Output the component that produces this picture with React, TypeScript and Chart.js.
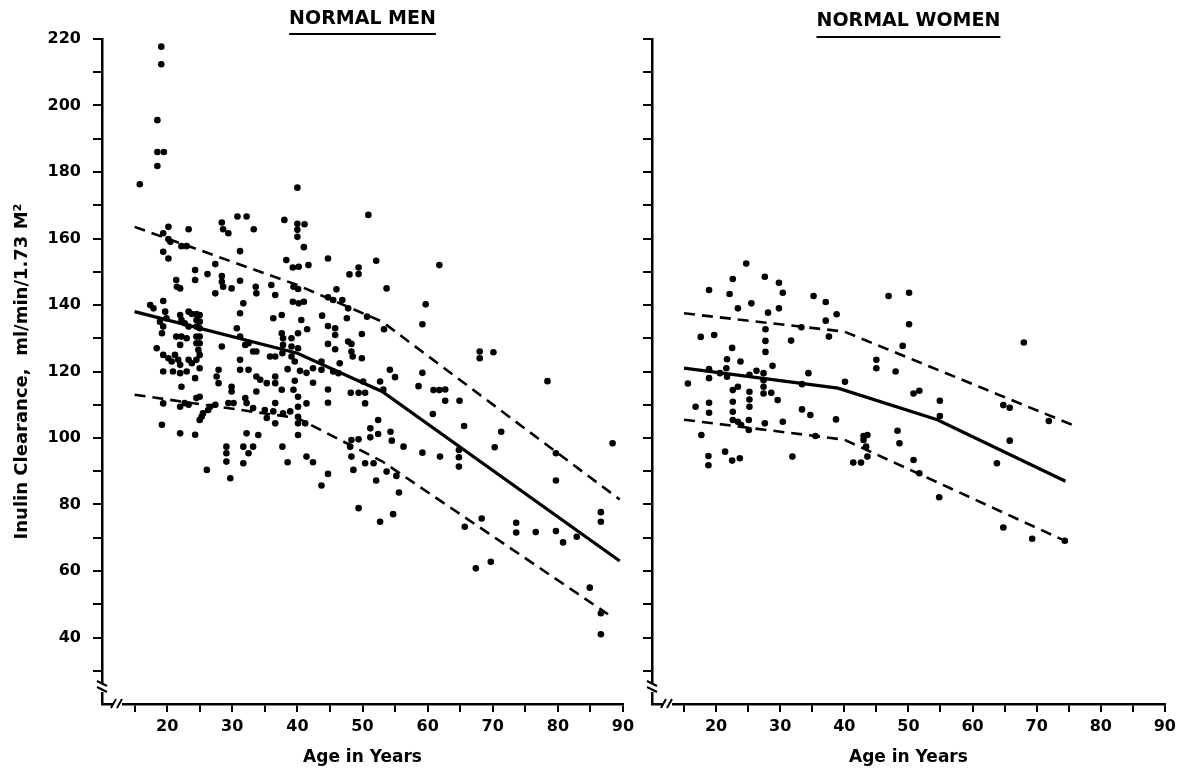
import React, { useEffect, useRef } from 'react';
import { Chart, registerables } from 'chart.js';

Chart.register(...registerables);

const FONT = "'DejaVu Sans', sans-serif";

// ---- axis ticks ----
const xTickValues = [10, 15, 20, 25, 30, 35, 40, 45, 50, 55, 60, 65, 70, 75, 80, 85, 90];
const xTickLabels = [20, 30, 40, 50, 60, 70, 80, 90];
const yTickValues = [20, 30, 40, 50, 60, 70, 80, 90, 100, 110, 120, 130, 140, 150, 160, 170, 180, 190, 200, 210, 220];
const yTickLabels = [40, 60, 80, 100, 120, 140, 160, 180, 200, 220];

// ---- NORMAL MEN: [age, inulin clearance] ----
const menPoints: [number, number][] = [
  [19.1, 217.7], [19.1, 212.4], [18.5, 195.6], [18.5, 186], [19.5, 186], [18.5, 181.8], [15.8, 176.3], [40, 175.3],
  [40, 164.4], [41.1, 164.3], [40, 162.6], [40, 160.5], [41, 157.4], [50.9, 167.1],
  [20.2, 163.5], [23.3, 162.8], [28.4, 164.8], [28.6, 162.8], [29.4, 161.6], [30.8, 166.6], [32.2, 166.6], [33.3, 162.8], [38.0, 165.6],
  [19.4, 161.6], [20.2, 159.8], [20.5, 159], [22.2, 157.7], [23.0, 157.7], [19.4, 156], [20.2, 154], [31.2, 156.2], [27.4, 152.3],
  [24.3, 150.5], [24.3, 147.5], [26.2, 149.3], [21.4, 147.5], [21.5, 145.5], [22.0, 145], [28.4, 148.7], [28.4, 147], [28.6, 145.5],
  [27.4, 143.5], [29.9, 145], [31.2, 147.3], [33.6, 145.5], [33.7, 143.5], [36.0, 146], [36.6, 143], [38.3, 153.5], [39.3, 151.3], [40.2, 151.5],
  [19.4, 141.2], [17.4, 140], [17.9, 139], [19.7, 138], [19.9, 136], [22.0, 137], [23.3, 138], [23.8, 137.3], [24.5, 137.3], [25.0, 137],
  [18.9, 135], [19.4, 133.5], [19.2, 131.5], [22.2, 135.5], [22.7, 134.5], [23.3, 133.5], [24.5, 135.5], [24.5, 133.5], [25, 135], [25, 133],
  [21.4, 130.5], [22.2, 130.5], [23, 130], [22, 128], [24.5, 130.5], [25, 130.5], [24.5, 128.5], [25, 128.5], [24.8, 126.5], [25, 125],
  [18.4, 127], [19.4, 125], [20.2, 124], [20.7, 123], [21.2, 125], [21.7, 123.5], [22, 122], [23.3, 123.5], [23.8, 122.5], [24.5, 123.5],
  [19.4, 120], [20.9, 120], [22, 119.5], [23, 120], [22.2, 115.4], [24.3, 118], [25, 121], [28.4, 127.5], [31.2, 130.5], [32, 128],
  [30.7, 133], [31.2, 137.5], [31.7, 140.5], [33.2, 126], [33.7, 126], [32.5, 128.5], [31.2, 120.5], [32.5, 120.5], [35.8, 124.5], [36.6, 124.5],
  [37.6, 131.5], [37.8, 130], [37.8, 128], [37.7, 125.5], [36.3, 136], [37.6, 137], [39.1, 130], [39.1, 127.5], [39.1, 124.5],
  [27.9, 120.5], [27.6, 118.5], [27.9, 116.5], [33.7, 118.5], [34.3, 117.5], [35.3, 116.5], [36.6, 116.5], [37.6, 114.5], [36.6, 118.5],
  [39.4, 114.5], [33.7, 114], [29.9, 115.4], [29.9, 114], [29.4, 110.5], [30.2, 110.5], [32, 112], [32.2, 110.5], [33.2, 109],
  [35, 108.4], [36.3, 108], [36.6, 110.5], [37.8, 107.4], [38.9, 108],
  [22, 109.4], [22.7, 110.5], [23.3, 110], [24.5, 112], [25, 112.4], [25, 105.4], [25.3, 106.4], [25.5, 107.4], [26.3, 108.4], [26.6, 109.4], [27.4, 110],
  [19.2, 104], [22, 101.4], [24.3, 101], [29.1, 95.4], [29.1, 97.4], [31.7, 97.4], [32.5, 95.4], [33.2, 97.4], [37.7, 97.4],
  [19.4, 110.4], [31.2, 123.5], [35.3, 106], [36.6, 104.4], [26.1, 90.4], [29.1, 92.9], [29.7, 87.9], [32.2, 101.4], [31.7, 92.4], [34, 100.9], [38.5, 92.7],
  [41.7, 152], [44.7, 154], [48, 149.2], [49.4, 151.3], [49.4, 149.3], [52.1, 153.3], [53.7, 145], [61.8, 152], [59.7, 140.2], [59.2, 134.2],
  [40.1, 144.8], [39.4, 145.5], [39.3, 141], [40.2, 140.5], [41, 141], [40.6, 135.5], [43.8, 136.8], [46, 144.7], [44.7, 142.3], [45.5, 141.5],
  [46.9, 141.5], [47.8, 139], [50.7, 136.5], [53.3, 132.7], [41.5, 132.7], [44.7, 133.7], [45.8, 133], [45.8, 131], [49.9, 131.3],
  [47.8, 129], [48.3, 128.3], [48.3, 126], [48.5, 124.5], [49.9, 124], [44.7, 128.3], [45.8, 126.7], [46.5, 122.5], [40.1, 131.5], [40.1, 127],
  [39.6, 123], [38.5, 120.7], [39.6, 117.2], [40.4, 120.2], [41.4, 119.6], [42.4, 121], [43.7, 120.5], [43.7, 123], [42.4, 116.6],
  [44.7, 114.6], [44.7, 110.6], [41.4, 110.4], [48.2, 113.6], [49.4, 113.6], [50.4, 113.6], [50.4, 110.4], [50.1, 117], [52.7, 117],
  [53.2, 114.6], [54.2, 120.5], [55, 118.3], [58.6, 115.6], [59.2, 119.6], [60.9, 114.4], [61.8, 114.4], [62.7, 114.6], [62.7, 111.2],
  [64.9, 111.2], [60.8, 107.2], [65.6, 103.6], [68, 126], [68, 124], [52.4, 105.4], [51.2, 102.9], [52.4, 101.2], [51.2, 100.2],
  [54.3, 101.9], [54.5, 99.2], [56.3, 97.4], [59.2, 95.6], [61.9, 94.4], [41.4, 94.4], [48.3, 99.4], [49.4, 99.6], [48.1, 97.4], [48.3, 94.4],
  [40.1, 112.4], [40.1, 109.4], [40.1, 106.4], [40.1, 104.4], [40.1, 100.9], [41.2, 104.4], [42.4, 92.7], [43.7, 85.7], [44.7, 89.2], [49.4, 78.9],
  [47.6, 136], [45.5, 120], [46.3, 119.5], [48.6, 90.4], [50.4, 92.4], [51.7, 92.4], [52.1, 87.2], [53.7, 89.9], [55.2, 88.6],
  [70.1, 125.8], [78.4, 117.1], [71.3, 101.9], [70.3, 97.2], [64.8, 96.4], [64.8, 94.2], [64.8, 91.4], [79.7, 95.4], [79.7, 87.2], [88.4, 98.4],
  [55.6, 83.6], [54.7, 77.1], [52.7, 74.8], [65.7, 73.3], [68.3, 75.8], [67.4, 60.8], [69.7, 62.8], [73.6, 74.5], [73.6, 71.6], [76.6, 71.7],
  [79.7, 72], [80.8, 68.6], [82.9, 70.3], [84.9, 55], [86.6, 77.7], [86.6, 74.8], [86.6, 47.3], [86.6, 41],
];

// regression lines, men
const menMeanAge = [15, 40, 53, 89.5];
const menMean = [138, 125.5, 114, 63];
const menUpperAge = [15, 40, 53, 89.5];
const menUpper = [163.5, 146, 135, 81.5];
const menLowerAge = [15, 40, 53, 87.7];
const menLower = [113, 106, 93, 47];

// ---- NORMAL WOMEN: [age, inulin clearance] ----
const womenPoints: [number, number][] = [
  [24.7, 152.5], [22.6, 147.8], [27.6, 148.5], [29.8, 146.7], [18.9, 144.5], [22.1, 143.3], [30.4, 143.7], [35.2, 142.7], [37.1, 140.9],
  [46.9, 142.7], [50.1, 143.7], [23.4, 139], [25.5, 140.5], [28.1, 137.7], [29.8, 139], [38.8, 137.2], [37.1, 135.3], [50.1, 134.2],
  [27.7, 132.7], [33.3, 133.3], [37.6, 130.5], [17.6, 130.4], [19.7, 131], [27.7, 129.2], [27.7, 125.9], [31.7, 129.3], [49.1, 127.7],
  [68, 128.7], [22.5, 127.1], [21.7, 123.7], [23.8, 123], [28.8, 121.7], [45, 123.5], [45, 121], [48, 120], [18.9, 120.7], [18.9, 118],
  [20.6, 119.5], [21.6, 121], [21.7, 118.4], [26.3, 120.2], [27.4, 119.5], [27.4, 117.4], [27.4, 115.4], [27.4, 113.4], [28.6, 113.6],
  [25.2, 119], [25.2, 113.9], [25.2, 111.6], [25.2, 109.4], [15.6, 116.4], [23.4, 115.4], [22.6, 114.4], [22.6, 110.9], [22.6, 107.9],
  [22.6, 105.4], [23.4, 104.9], [23.9, 103.9], [34.4, 119.5], [33.4, 116.2], [40.1, 116.9], [29.6, 111.4], [33.4, 108.6], [34.7, 106.9],
  [16.8, 109.4], [18.9, 110.6], [18.9, 107.6], [25.1, 105.4], [25.1, 102.4], [27.6, 104.4], [30.4, 104.9], [38.7, 105.6], [35.5, 100.6],
  [17.7, 100.9], [43, 100.6], [43.6, 100.9], [43, 99.4], [43.4, 97.4], [18.8, 94.6], [18.8, 91.8], [21.4, 95.9], [22.5, 93.2], [23.7, 93.9],
  [31.9, 94.4], [41.4, 92.6], [42.6, 92.6], [43.6, 94.4], [48.3, 102.2], [48.6, 98.4], [50.8, 113.4], [51.7, 114.2], [54.9, 111.2],
  [54.9, 106.6], [64.8, 109.9], [65.8, 109.1], [71.9, 105.1], [65.8, 99.2], [63.8, 92.4], [54.8, 82.2], [50.8, 93.4], [51.7, 89.4],
  [64.8, 73.1], [69.3, 69.7], [74.4, 69.1],
];

// regression lines, women
const womenMeanAge = [15, 39, 54.5, 74.5];
const womenMean = [121, 115, 105.5, 87];
const womenUpperAge = [15, 40, 75.5];
const womenUpper = [137.5, 132, 104];
const womenLowerAge = [15, 40, 74.5];
const womenLower = [105.5, 99.5, 69];

type LineDef = { ages: number[]; values: number[]; dashed: boolean };

const zip = (xs: number[], ys: number[]) => xs.map((x, i) => ({ x, y: ys[i] }));

const underlinePlugin = {
  id: 'titleUnderline',
  afterDraw(chart: any, _args: any, opts: any) {
    const tb = chart.titleBlock;
    if (!tb) return;
    const t = chart.options.plugins.title;
    const ctx = chart.ctx as CanvasRenderingContext2D;
    ctx.save();
    ctx.font = `bold ${t.font.size}px ${FONT}`;
    const w = ctx.measureText(t.text).width;
    const cx = (tb.left + tb.right) / 2;
    ctx.strokeStyle = '#000';
    ctx.lineWidth = 2.2;
    ctx.beginPath();
    ctx.moveTo(cx - w / 2, opts.y);
    ctx.lineTo(cx + w / 2, opts.y);
    ctx.stroke();
    ctx.restore();
  },
};

const breakPlugin = {
  id: 'axisBreaks',
  afterDraw(chart: any) {
    const { ctx, chartArea } = chart;
    const { left, bottom } = chartArea;
    ctx.save();
    ctx.fillStyle = '#fff';
    ctx.fillRect(left - 3, bottom - 20, 6, 8);
    ctx.fillRect(left + 11, bottom - 3, 9, 6);
    ctx.strokeStyle = '#000';
    ctx.lineWidth = 2;
    ctx.beginPath();
    ctx.moveTo(left - 5, bottom - 23);
    ctx.lineTo(left + 5, bottom - 18);
    ctx.moveTo(left - 5, bottom - 17);
    ctx.lineTo(left + 5, bottom - 12);
    ctx.moveTo(left + 9, bottom + 4);
    ctx.lineTo(left + 14, bottom - 5);
    ctx.moveTo(left + 15, bottom + 4);
    ctx.lineTo(left + 20, bottom - 5);
    ctx.stroke();
    ctx.restore();
  },
};

type PanelProps = {
  left: number;
  width: number;
  title: string;
  titleTop: number;
  underlineY: number;
  points: [number, number][];
  lines: LineDef[];
  yLabels: boolean;
  yAxisWidth: number;
  rightPad: number;
};

function Panel(p: PanelProps) {
  const ref = useRef<HTMLCanvasElement>(null);
  useEffect(() => {
    const tickFont = { family: FONT, size: 16, weight: 'bold' as const };
    const titleFont = { family: FONT, size: 19, weight: 'bold' as const };
    const axisTitleFont = { family: FONT, size: 17, weight: 'bold' as const };
    const datasets: any[] = p.lines.map((l) => ({
      type: 'line',
      data: zip(l.ages, l.values),
      borderColor: '#000',
      borderWidth: l.dashed ? 2.6 : 3.2,
      borderDash: l.dashed ? [11, 7] : [],
      pointRadius: 0,
      fill: false,
      tension: 0,
      showLine: true,
    }));
    datasets.push({
      type: 'scatter',
      data: p.points.map(([x, y]) => ({ x, y })),
      backgroundColor: '#000',
      borderWidth: 0,
      pointRadius: 3.3,
      pointHoverRadius: 3.3,
    });
    const chart = new Chart(ref.current as HTMLCanvasElement, {
      type: 'scatter',
      data: { datasets },
      options: {
        animation: false,
        responsive: false,
        events: [],
        layout: { padding: { left: 0, right: p.rightPad, top: 0, bottom: 0 } },
        plugins: {
          legend: { display: false },
          tooltip: { enabled: false },
          title: {
            display: true,
            text: p.title,
            fullSize: false,
            color: '#000',
            font: titleFont,
            padding: { top: p.titleTop, bottom: 39 - p.titleTop - 22.8 },
          },
          titleUnderline: { y: p.underlineY },
        } as any,
        scales: {
          x: {
            type: 'linear',
            min: 10,
            max: 90,
            afterBuildTicks: (s: any) => {
              s.ticks = xTickValues.map((v) => ({ value: v }));
            },
            afterFit: (s: any) => {
              s.height = 66;
            },
            ticks: {
              autoSkip: false,
              maxRotation: 0,
              color: '#000',
              font: tickFont,
              padding: 5,
              callback: (v: any) => (xTickLabels.includes(Number(v)) ? String(v) : ''),
            },
            grid: {
              drawOnChartArea: false,
              drawTicks: true,
              tickLength: 8,
              lineWidth: 2,
              color: (c: any) => (c.tick && c.tick.value === 10 ? 'rgba(0,0,0,0)' : '#000'),
            },
            border: { display: true, color: '#000', width: 2.5 },
            title: {
              display: true,
              text: 'Age in Years',
              color: '#000',
              font: axisTitleFont,
              padding: { top: 0, bottom: 2 },
            },
          },
          y: {
            type: 'linear',
            min: 20,
            max: 220,
            afterBuildTicks: (s: any) => {
              s.ticks = yTickValues.map((v) => ({ value: v }));
            },
            afterFit: (s: any) => {
              s.width = p.yAxisWidth;
            },
            ticks: {
              autoSkip: false,
              color: '#000',
              font: tickFont,
              padding: 12,
              callback: (v: any) => (p.yLabels && yTickLabels.includes(Number(v)) ? String(v) : ''),
            },
            grid: {
              drawOnChartArea: false,
              drawTicks: true,
              tickLength: 9,
              lineWidth: 2,
              color: (c: any) => (c.tick && c.tick.value === 20 ? 'rgba(0,0,0,0)' : '#000'),
            },
            border: { display: true, color: '#000', width: 2.5 },
            title: {
              display: p.yLabels,
              text: 'Inulin Clearance,  ml/min/1.73 M²',
              color: '#000',
              font: { family: FONT, size: 18, weight: 'bold' as const },
              padding: { top: 12, bottom: 0 },
            },
          },
        },
      },
      plugins: [underlinePlugin, breakPlugin],
    } as any);
    return () => chart.destroy();
  }, []);
  return (
    <div style={{ position: 'absolute', left: p.left, top: 0, width: p.width, height: 770 }}>
      <canvas ref={ref} width={p.width} height={770} style={{ display: 'block' }} />
    </div>
  );
}

export default function App() {
  const menLines: LineDef[] = [
    { ages: menUpperAge, values: menUpper, dashed: true },
    { ages: menMeanAge, values: menMean, dashed: false },
    { ages: menLowerAge, values: menLower, dashed: true },
  ];
  const womenLines: LineDef[] = [
    { ages: womenUpperAge, values: womenUpper, dashed: true },
    { ages: womenMeanAge, values: womenMean, dashed: false },
    { ages: womenLowerAge, values: womenLower, dashed: true },
  ];
  return (
    <div style={{ position: 'absolute', left: 0, top: 0, width: 1181, height: 770, background: '#fff', overflow: 'hidden' }}>
      <Panel left={0} width={640} title="NORMAL MEN" titleTop={8} underlineY={34}
        points={menPoints} lines={menLines} yLabels={true} yAxisWidth={102} rightPad={17} />
      <Panel left={630} width={551} title="NORMAL WOMEN" titleTop={10} underlineY={37}
        points={womenPoints} lines={womenLines} yLabels={false} yAxisWidth={22} rightPad={14} />
    </div>
  );
}
